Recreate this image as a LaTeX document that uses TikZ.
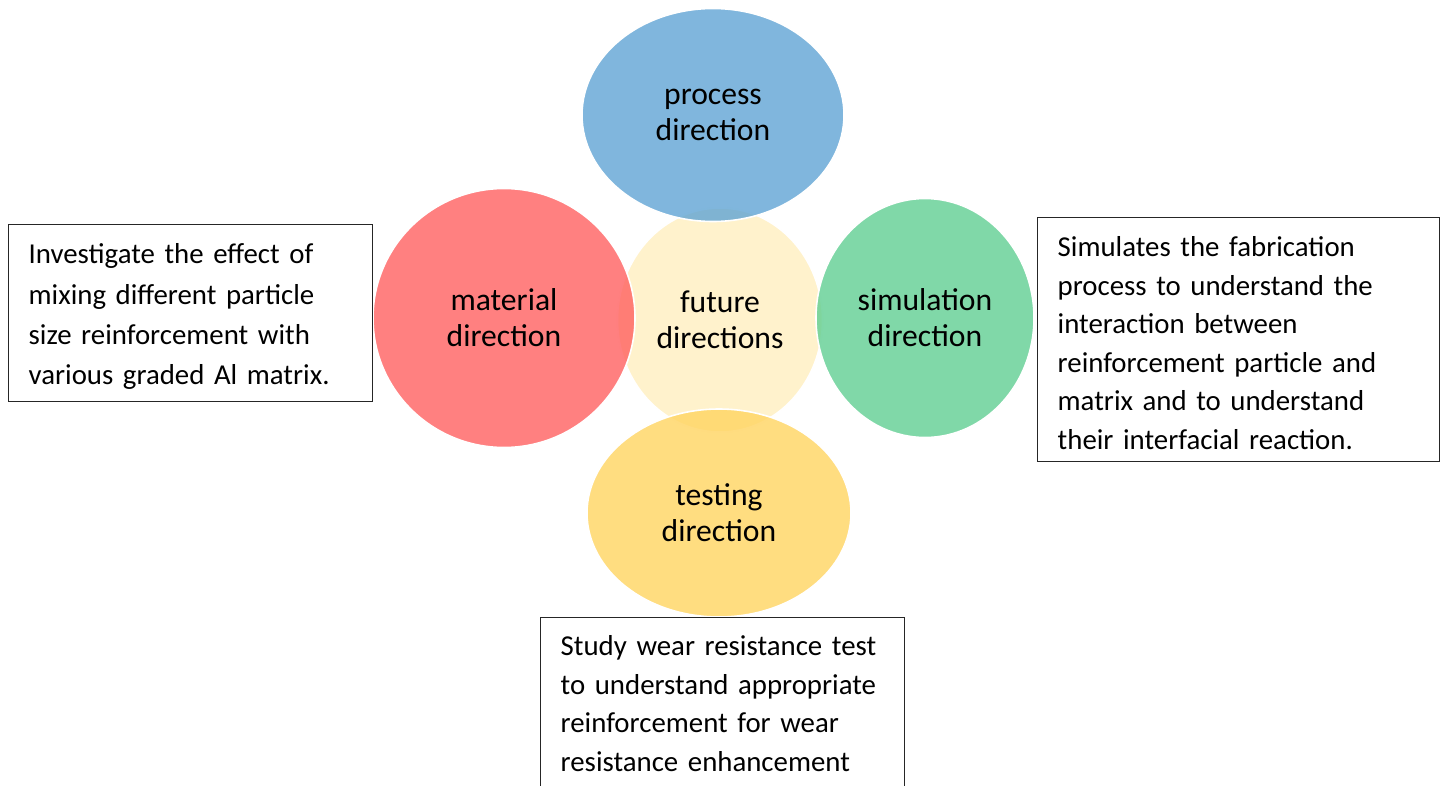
\documentclass[tikz,border=0pt]{standalone}
\usepackage{fontspec}
\setmainfont{Carlito}
\usepackage{xcolor}
\usepackage{tikz}
\usetikzlibrary{shapes.geometric}
\definecolor{hub}{RGB}{255,242,204}
\definecolor{proc}{RGB}{96,164,212}
\definecolor{matl}{RGB}{255,96,96}
\definecolor{simu}{RGB}{96,206,146}
\definecolor{test}{RGB}{255,212,96}

\begin{document}
\begin{tikzpicture}[
  bubble/.style={ellipse, inner sep=0pt, align=center, draw=white, line width=0.9pt,
    font=\fontsize{18}{20.4}\selectfont},
  spoke/.style={bubble, fill opacity=0.8, text opacity=1},
  note/.style={draw=black!85, line width=0.8pt, anchor=north west, align=left,
    inner xsep=0.4cm, inner ysep=0pt, font=\fontsize{16.4}{21.9}\selectfont}
]
\useasboundingbox (0,0) rectangle (28.92,-15.70);

% Hub.
\node[bubble, fill=hub, minimum width=4.10cm, minimum height=4.48cm] (hub) at (14.40,-6.40)
  {future\\directions};

% Four directions round the hub.
\node[spoke, fill=proc, minimum width=5.24cm, minimum height=4.26cm] (proc) at (14.26,-2.30)
  {process\\direction};
\node[spoke, fill=matl, minimum width=5.24cm, minimum height=5.18cm] (matl) at (10.08,-6.36)
  {material\\direction};
\node[spoke, fill=simu, minimum width=4.36cm, minimum height=4.78cm] (simu) at (18.50,-6.36)
  {simulation\\direction};
\node[spoke, fill=test, minimum width=5.28cm, minimum height=4.16cm] (test) at (14.38,-10.26)
  {testing\\direction};

% Notes.
\node[note, minimum width=7.28cm, minimum height=3.54cm, text width=6.48cm] (matlnote) at (0.16,-4.48) {
  \strut Investigate the effect of\\[1pt]
  mixing different particle\\[1pt]
  size reinforcement with\\[1pt]
  various graded Al matrix.
};

\node[note, minimum width=8.04cm, minimum height=4.88cm, text width=7.24cm] (simunote) at (20.74,-4.34) {
  \strut Simulates the fabrication\\
  process to understand the\\
  interaction between\\
  reinforcement particle and\\
  matrix and to understand\\
  their interfacial reaction.
};

\node[note, minimum width=7.28cm, minimum height=3.44cm, text width=6.48cm] (testnote) at (10.80,-12.34) {
  Study wear resistance test\\
  to understand appropriate\\
  reinforcement for wear\\
  resistance enhancement
};

\end{tikzpicture}
\end{document}
